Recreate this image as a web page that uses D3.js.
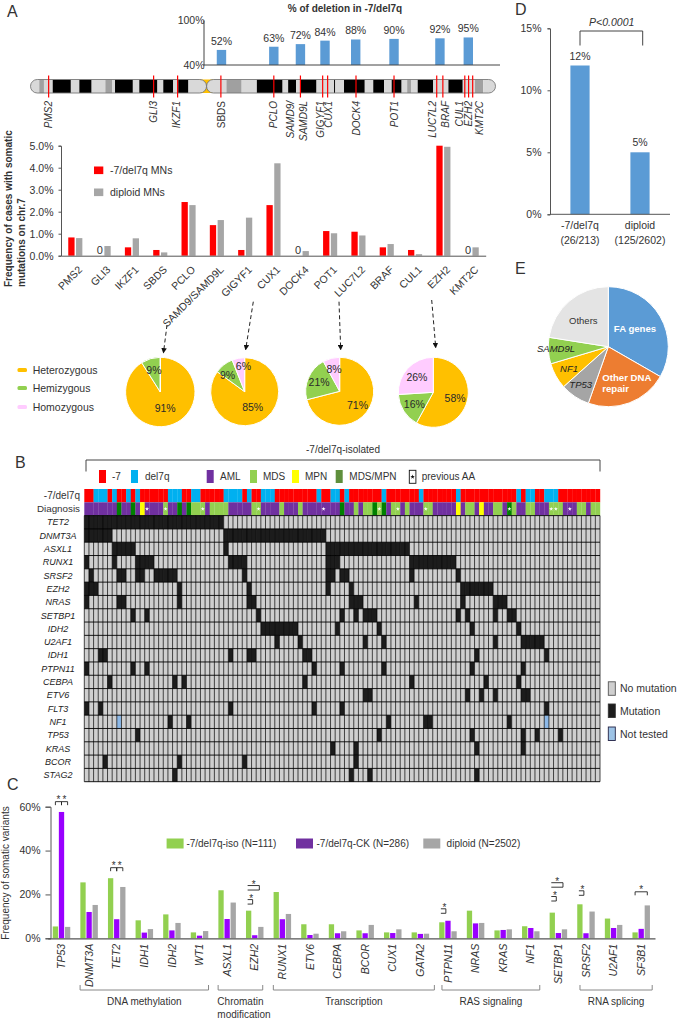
<!DOCTYPE html>
<html>
<head>
<meta charset="utf-8">
<script src="https://cdnjs.cloudflare.com/ajax/libs/d3/7.8.5/d3.min.js"></script>
<style>
  body { margin: 0; background: #fff; }
  svg { display: block; }
  text { font-family: "Liberation Sans", Arial, sans-serif; fill: #333; }
</style>
</head>
<body>
<svg id="chart" width="682" height="1019"></svg>
<script>
// ---- panel A: deletion frequency
const delGenes = ["SBDS", "PCLO", "SAMD9", "GIGYF1", "DOCK4", "POT1", "LUC7L2", "EZH2"];
const delPct = [52, 63, 72, 84, 88, 90, 92, 95];
const delMb = [65.3, 83.2, 92.3, 100.7, 111.2, 124.3, 140, 149.7];

// ---- panel A: chromosome 7 (Mb along the chromosome)
const cytoBands = [
  [0, 3, "l"], [3, 4.6, "g"], [4.6, 7.6, "l"], [7.6, 13.8, "k"], [13.8, 16.7, "l"], [16.7, 20.9, "k"],
  [20.9, 25.6, "l"], [25.6, 28, "g"], [28, 28.9, "l"], [28.9, 35, "k"], [35, 37.2, "l"], [37.2, 43.4, "k"],
  [43.4, 45.4, "l"], [45.4, 48.8, "k"], [48.8, 50.5, "l"], [50.5, 54, "k"], [54, 60.2, "l"], [60.2, 67, "l"],
  [67, 72.2, "g"], [72.2, 77.4, "l"], [77.4, 86.2, "k"], [86.2, 88.1, "l"], [88.1, 90.8, "k"], [90.8, 92.4, "l"],
  [92.4, 97.8, "k"], [97.8, 103.8, "l"], [103.8, 104.2, "k"], [104.2, 107.2, "l"], [107.2, 114.3, "k"],
  [114.3, 117.2, "l"], [117.2, 120.9, "k"], [120.9, 123.5, "l"], [123.5, 126.9, "k"], [126.9, 128.8, "l"],
  [128.8, 130.1, "g"], [130.1, 132.4, "l"], [132.4, 137.7, "k"], [137.7, 142.9, "l"], [142.9, 147.8, "k"],
  [147.8, 152, "l"], [152, 154.8, "g"], [154.8, 159, "l"]
];
const lociNames = ["PMS2", "GLI3", "IKZF1", "SBDS", "PCLO", "SAMD9/SAMD9L", "GIGYF1", "CUX1", "DOCK4", "POT1", "LUC7L2", "BRAF", "CUL1", "EZH2", "KMT2C"];
const lociMb = [6.2, 42.1, 50.3, 65.1, 83.2, 92.3, 99.9, 101.6, 111.3, 124.3, 138.9, 141, 148.5, 149.8, 151.2];

// ---- panel A: somatic mutation frequency on chr.7
const freqDel7 = [0.83, 0, 0.38, 0.26, 2.44, 1.39, 0.26, 2.3, 0, 1.12, 1.09, 0.38, 0.26, 5.0, 0];
const freqDiploid = [0.8, 0.44, 0.79, 0.15, 2.3, 1.62, 1.73, 4.2, 0.21, 1.02, 0.92, 0.53, 0.07, 4.95, 0.38];

// ---- panel A: zygosity pies
const zygosityNames = ["Heterozygous", "Hemizygous", "Homozygous"];
const zygosityColors = ["#ffc000", "#92d050", "#ffccff"];
const pieShares = [[91, 9, 0], [85, 9, 6], [71, 21, 8], [58, 16, 26]];

// ---- panel B: oncoprint
const karyotypeRuns = [
  ["-7", 2], ["del7q", 3], ["-7", 1], ["del7q", 1], ["-7", 2], ["del7q", 1], ["-7", 1], ["del7q", 1], ["-7", 6],
  ["del7q", 3], ["-7", 2], ["del7q", 2], ["-7", 5], ["del7q", 4], ["-7", 1], ["del7q", 1], ["-7", 2], ["del7q", 3],
  ["-7", 9], ["del7q", 1], ["-7", 2], ["del7q", 2], ["-7", 1], ["del7q", 1], ["-7", 7], ["del7q", 1], ["-7", 7],
  ["del7q", 1], ["-7", 7], ["del7q", 1], ["-7", 12], ["del7q", 1], ["-7", 1], ["del7q", 2], ["-7", 2], ["del7q", 3], ["-7", 9]
];
const diagnosisRuns = [
  ["AML", 7], ["MDS/MPN", 1], ["AML", 2], ["MDS/MPN", 1], ["AML", 1], ["MPN", 1], ["AML", 4], ["MDS", 1], ["AML", 2],
  ["MDS/MPN", 1], ["AML", 1], ["MDS/MPN", 1], ["MDS", 3], ["AML", 1], ["MDS", 4], ["AML", 5], ["MDS", 2], ["AML", 4],
  ["MDS", 1], ["AML", 3], ["MDS", 1], ["AML", 8], ["MDS/MPN", 1], ["AML", 2], ["MDS", 1], ["AML", 1], ["MDS", 2],
  ["MDS/MPN", 1], ["MDS", 1], ["MDS/MPN", 1], ["AML", 1], ["MDS", 2], ["AML", 1], ["MDS", 1], ["AML", 3], ["MDS", 2],
  ["AML", 5], ["MPN", 1], ["AML", 1], ["MDS", 2], ["AML", 1], ["MPN", 1], ["AML", 2], ["MDS", 2], ["AML", 1],
  ["MDS/MPN", 1], ["MDS", 1], ["AML", 2], ["MDS", 2], ["AML", 3], ["MDS", 3], ["AML", 3], ["MDS", 2], ["AML", 1], ["MDS", 2]
];
const previousAA = [13, 17, 25, 37, 51, 63, 67, 73, 91, 100, 101, 104];
const oncoGenes = ["TET2", "DNMT3A", "ASXL1", "RUNX1", "SRSF2", "EZH2", "NRAS", "SETBP1", "IDH2", "U2AF1", "IDH1", "PTPN11", "CEBPA", "ETV6", "FLT3", "NF1", "TP53", "KRAS", "BCOR", "STAG2"];
// [first patient, last patient] of each block of mutated cells, one list per gene
const mutationRuns = [
  [[0, 29]],
  [[0, 5], [30, 51]],
  [[6, 10], [30, 30], [52, 69]],
  [[0, 0], [6, 6], [11, 14], [31, 34], [52, 54], [70, 79]],
  [[1, 1], [7, 8], [11, 12], [15, 19], [34, 34], [52, 53], [55, 56], [70, 70], [80, 80]],
  [[0, 2], [20, 20], [35, 35], [52, 52], [57, 57], [81, 87]],
  [[0, 0], [7, 8], [20, 20], [35, 36], [57, 59], [71, 71], [81, 81], [88, 90]],
  [[10, 10], [13, 13], [37, 37], [55, 55], [58, 58], [60, 62], [80, 80], [82, 82], [88, 88], [91, 92]],
  [[38, 45], [54, 54], [63, 63], [83, 83], [93, 93]],
  [[41, 41], [46, 46], [60, 60], [64, 64], [88, 88], [94, 98]],
  [[3, 4], [31, 31], [35, 36], [47, 48], [84, 84], [99, 99]],
  [[0, 0], [10, 10], [13, 13], [49, 49], [55, 55], [64, 64], [83, 83], [94, 94]],
  [[5, 5], [19, 19], [21, 21], [47, 47], [70, 70], [86, 86], [93, 93]],
  [[60, 61], [82, 82], [85, 85], [88, 88], [94, 95]],
  [[0, 0], [3, 3], [31, 31], [49, 49], [55, 55], [99, 99]],
  [[18, 18], [22, 22], [65, 65], [73, 74], [91, 91]],
  [[11, 11], [63, 63], [83, 83], [94, 94], [97, 97], [102, 102]],
  [[53, 53], [58, 58], [84, 84], [94, 94]],
  [[4, 4], [20, 20], [34, 34], [58, 58]],
  [[19, 19], [57, 57], [61, 61], [84, 84]]
];
const notTestedGene = "NF1";
const notTestedPatients = [7, 99];

// ---- panel C
const variantGenes = ["TP53", "DNMT3A", "TET2", "IDH1", "IDH2", "WT1", "ASXL1", "EZH2", "RUNX1", "ETV6", "CEBPA", "BCOR", "CUX1", "GATA2", "PTPN11", "NRAS", "KRAS", "NF1", "SETBP1", "SRSF2", "U2AF1", "SF3B1"];
const variantIso = [5.4, 25.5, 27.4, 8.2, 10.9, 2.7, 21.9, 12.6, 21.1, 6.4, 6.4, 3.6, 2.7, 2.7, 7.3, 12.6, 3.6, 5.5, 11.7, 15.5, 9, 2.7];
const variantCK = [57.6, 12, 8.7, 2.6, 3.6, 1.2, 8.8, 1.4, 8.7, 1.5, 2.3, 2.3, 2.4, 2, 8, 6.8, 3.8, 4.7, 2.4, 2.3, 4.7, 4.3];
const variantDiploid = [5.2, 15.2, 23.4, 4.2, 7, 3.3, 16.3, 5.2, 11.1, 2.1, 3.2, 6.1, 4.1, 2.1, 3.2, 7, 4.1, 3.2, 4.1, 12.2, 6.1, 15];
const variantSeries = ["-7/del7q-iso (N=111)", "-7/del7q-CK (N=286)", "diploid (N=2502)"];
const geneGroups = [
  ["DNA methylation", "DNMT3A", "WT1"], ["Chromatin", "ASXL1", "EZH2"], ["Transcription", "RUNX1", "GATA2"],
  ["RAS signaling", "PTPN11", "NF1"], ["RNA splicing", "SRSF2", "SF3B1"]
];

// ---- panel D
const panelDNames = ["-7/del7q", "diploid"];
const panelDCounts = ["(26/213)", "(125/2602)"];
const panelDPct = [12, 5];

// ---- panel E
const pathwayNames = ["FA genes", "Other DNA repair", "TP53", "NF1", "SAMD9L", "Others"];
const pathwayShares = [33.3, 22.1, 8, 7, 7.1, 22.5];
const pathwayColors = ["#5b9bd5", "#ed7d31", "#a5a5a5", "#ffc000", "#92d050", "#e4e4e4"];

const svg = d3.select("#chart");
const FONT = 10.5;

function label(parent, x, y, str, opts) {
  opts = opts || {};
  return parent.append("text")
    .attr("x", x).attr("y", y)
    .attr("dy", opts.dy || "0.35em")
    .attr("text-anchor", opts.anchor || "start")
    .attr("font-size", opts.size || FONT)
    .attr("font-style", opts.italic ? "italic" : null)
    .attr("font-weight", opts.bold ? "bold" : null)
    .style("fill", opts.fill || null)
    .text(str);
}

function styleAxis(g, color) {
  g.selectAll("path, line").attr("stroke", color || "#555");
  g.selectAll("text").attr("font-size", FONT).style("font-family", '"Liberation Sans", Arial, sans-serif');
}

[["A", 7, 11], ["B", 15, 462], ["C", 7, 784], ["D", 515, 9], ["E", 515, 268]].forEach(d => {
  label(svg, d[1], d[2], d[0], { size: 16 });
});

drawDeletionBars();
drawChromosome();
drawFrequencyBars();
drawPies();
drawOncoprint();
drawVariants();
drawPanelD();
drawPanelE();

function drawDeletionBars() {
  const g = svg.append("g");
  const xMb = d3.scaleLinear().domain([0, 159]).range([30.5, 495.5]);
  const axisY = d3.scaleLinear().domain([40, 100]).range([65, 20]);
  // bars were drawn from zero in the original, the axis only labels 40-100
  const barY = d3.scaleLinear().domain([0, 100]).range([65, 36]);

  label(g, 345, 8.5, "% of deletion in -7/del7q", { anchor: "middle", bold: true, size: 10 });

  g.selectAll("rect").data(delPct).enter().append("rect")
    .attr("x", (d, i) => xMb(delMb[i]) - 4.7)
    .attr("width", 9.4)
    .attr("y", d => barY(d))
    .attr("height", d => barY(0) - barY(d))
    .attr("fill", "#5b9bd5");

  g.selectAll(".pct").data(delPct).enter().append("text")
    .attr("class", "pct")
    .attr("x", (d, i) => xMb(delMb[i]))
    .attr("y", d => barY(d) - 5)
    .attr("text-anchor", "middle")
    .attr("font-size", FONT)
    .text(d => d + "%");

  const ax = g.append("g").attr("transform", "translate(203.5,0)")
    .call(d3.axisLeft(axisY).tickValues([40, 100]).tickSize(0).tickPadding(-1).tickFormat(d => d + "%"));
  styleAxis(ax, "#444");
  g.append("line").attr("x1", 203.5).attr("x2", 500).attr("y1", 65).attr("y2", 65).attr("stroke", "#444");
}

function drawChromosome() {
  const g = svg.append("g");
  const x = d3.scaleLinear().domain([0, 159]).range([30.5, 495.5]);
  const top = 79.5, h = 13.5;
  const arms = [[0, 60.2], [60.2, 159]];
  const bandColor = { l: "#d9d9d9", g: "#a0a0a0", k: "#000" };

  const clip = svg.append("defs").append("clipPath").attr("id", "chrClip");
  arms.forEach(a => {
    clip.append("rect").attr("x", x(a[0])).attr("y", top)
      .attr("width", x(a[1]) - x(a[0])).attr("height", h).attr("rx", h / 2);
  });

  g.append("rect").attr("x", x(57.7)).attr("width", x(62.7) - x(57.7))
    .attr("y", top).attr("height", h).attr("fill", "#ffc000");

  g.append("g").attr("clip-path", "url(#chrClip)")
    .selectAll("rect").data(cytoBands).enter().append("rect")
    .attr("x", d => x(d[0]))
    .attr("width", d => x(d[1]) - x(d[0]))
    .attr("y", top).attr("height", h)
    .attr("fill", d => bandColor[d[2]]);

  arms.forEach(a => {
    g.append("rect").attr("x", x(a[0])).attr("y", top)
      .attr("width", x(a[1]) - x(a[0])).attr("height", h).attr("rx", h / 2)
      .attr("fill", "none").attr("stroke", "#777").attr("stroke-width", 0.9);
  });

  g.selectAll(".locus").data(lociMb).enter().append("line")
    .attr("class", "locus")
    .attr("x1", d => x(d)).attr("x2", d => x(d))
    .attr("y1", 75.5).attr("y2", 97.5)
    .attr("stroke", "#f00").attr("stroke-width", 1.2);

  // labels sit beside the locus where they would collide
  const names = ["PMS2", "GLI3", "IKZF1", "SBDS", "PCLO", "SAMD9/", "SAMD9L", "GIGYF1", "CUX1", "DOCK4", "POT1", "LUC7L2", "BRAF", "CUL1", "EZH2", "KMT2C"];
  const mbOf = [6.1, 42, 50, 65.3, 83.1, 88.9, 93.3, 99.2, 101.9, 111.5, 124.6, 137.4, 141.9, 146.8, 149.8, 153.4];
  names.forEach((n, i) => {
    g.append("text")
      .attr("transform", `translate(${x(mbOf[i])},101) rotate(-90)`)
      .attr("dy", "0.35em")
      .attr("text-anchor", "end")
      .attr("font-size", 10).attr("font-style", n === "SBDS" ? null : "italic")
      .text(n);
  });
}

function drawFrequencyBars() {
  const g = svg.append("g");
  const x = d3.scaleBand().domain(lociNames).range([61, 485.7]);
  const y = d3.scaleLinear().domain([0, 5]).range([255.7, 145.7]);
  const series = [freqDel7, freqDiploid];
  const colors = ["#ff0000", "#a6a6a6"];

  series.forEach((vals, s) => {
    g.append("g").selectAll("rect").data(vals).enter().append("rect")
      .attr("x", (d, i) => x(lociNames[i]) + x.bandwidth() / 2 - 6.9 + s * 7.8)
      .attr("width", 6.3)
      .attr("y", d => y(d))
      .attr("height", d => y(0) - y(d))
      .attr("fill", colors[s]);
  });

  freqDel7.forEach((d, i) => {
    if (d === 0) label(g, x(lociNames[i]) + x.bandwidth() / 2 - 3.6, y(0) - 5.5, "0", { anchor: "middle", size: 11 });
  });

  const ay = g.append("g").attr("transform", "translate(61,0)")
    .call(d3.axisLeft(y).ticks(5).tickSize(2.5).tickPadding(5).tickFormat(d => d.toFixed(1) + "%"));
  styleAxis(ay);

  const ax = g.append("g").attr("transform", "translate(0,255.7)")
    .call(d3.axisBottom(x).tickSize(0).tickFormat(d => d));
  styleAxis(ax);
  ax.selectAll("text")
    .attr("x", 0).attr("y", 0).attr("dy", "0.35em")
    .attr("text-anchor", "end")
    .attr("transform", "translate(5,12) rotate(-45)");

  [["-7/del7q MNs", 0, 170.3], ["diploid MNs", 1, 192.3]].forEach(d => {
    g.append("rect").attr("x", 94).attr("y", d[2] - 3.8).attr("width", 9.3).attr("height", 7.6).attr("fill", colors[d[1]]);
    label(g, 110, d[2], d[0]);
  });

  g.append("text").attr("transform", "translate(8,287) rotate(-90)").attr("dy", "0.35em")
    .attr("font-size", 10).attr("font-weight", "bold").text("Frequency of cases with somatic");
  g.append("text").attr("transform", "translate(21,287) rotate(-90)").attr("dy", "0.35em")
    .attr("font-size", 10).attr("font-weight", "bold").text("mutations  on chr.7");
}

function drawPies() {
  const g = svg.append("g");
  const centers = [[160.3, 392, 34.7], [244.7, 391.7, 34], [339.7, 391.3, 34], [433.3, 392.3, 35]];
  const pie = d3.pie().sort(null);
  // the two narrow slices of the second pie need their labels pulled apart
  const labelNudge = { "1-1": [-3, 1.5], "1-2": [3, -3] };

  pieShares.forEach((shares, k) => {
    const c = centers[k];
    const p = g.append("g").attr("transform", `translate(${c[0]},${c[1]})`);
    const arcs = pie(shares);
    const arc = d3.arc().innerRadius(0).outerRadius(c[2]);
    p.selectAll("path").data(arcs).enter().append("path")
      .attr("d", arc)
      .attr("fill", (d, i) => zygosityColors[i])
      .attr("stroke", "#fff").attr("stroke-width", 1);
    arcs.forEach((d, i) => {
      if (d.value === 0) return;
      const r = d.value > 80 ? 17.5 : (d.value < 10 ? 23 : 22.5);
      const lab = d3.arc().innerRadius(r).outerRadius(r).centroid(d);
      const nudge = labelNudge[k + "-" + i] || [0, 0];
      label(p, lab[0] + nudge[0], lab[1] + nudge[1], d.value + "%", { anchor: "middle", size: 10.5, fill: "#2a2a2a" });
    });
  });

  zygosityNames.forEach((n, i) => {
    const yy = [370, 388, 407][i];
    g.append("rect").attr("x", 17.5).attr("y", yy - 2).attr("width", 9.5).attr("height", 4).attr("rx", 1.5).attr("fill", zygosityColors[i]);
    label(g, 32.7, yy, n, { size: 10.5 });
  });

  const defs = svg.append("defs");
  defs.append("marker").attr("id", "tri").attr("viewBox", "0 0 10 10")
    .attr("refX", 8).attr("refY", 5).attr("markerWidth", 5.5).attr("markerHeight", 5.5).attr("orient", "auto")
    .append("path").attr("d", "M0,0L10,5L0,10z").attr("fill", "#111");
  [[167, 325, 163.5, 352.5], [253.3, 301.7, 245.7, 349.3], [339, 301.7, 340.7, 349.3], [431.7, 300, 435.7, 347.3]].forEach(d => {
    g.append("line").attr("x1", d[0]).attr("y1", d[1]).attr("x2", d[2]).attr("y2", d[3])
      .attr("stroke", "#222").attr("stroke-width", 1).attr("stroke-dasharray", "4,2.8")
      .attr("marker-end", "url(#tri)");
  });
}

function expandRuns(runs) {
  const out = [];
  runs.forEach(r => { for (let i = 0; i < r[1]; i++) out.push(r[0]); });
  return out;
}

function drawOncoprint() {
  const g = svg.append("g");
  const karyotype = expandRuns(karyotypeRuns);
  const diagnosis = expandRuns(diagnosisRuns);
  const patients = karyotype.map((d, i) => i);
  const x = d3.scaleBand().domain(patients).range([84.3, 600]);
  const y = d3.scaleBand().domain(["-7/del7q", "Diagnosis"].concat(oncoGenes)).range([489, 781.7]);

  const karyoColor = d3.scaleOrdinal().domain(["-7", "del7q"]).range(["#ff0000", "#00b0f0"]);
  const dxColor = d3.scaleOrdinal().domain(["AML", "MDS", "MPN", "MDS/MPN"]).range(["#7030a0", "#92d050", "#ffff00", "#008000"]);

  // bracket + title
  label(g, 343, 449, "-7/del7q-isolated", { anchor: "middle", size: 10 });
  g.append("path").attr("d", "M86,471.5V460H600V471.5").attr("fill", "none").attr("stroke", "#444").attr("stroke-width", 1);

  // legend
  [["-7", "#ff0000", 99, 112], ["del7q", "#00b0f0", 131, 145], ["AML", "#7030a0", 206.7, 220], ["MDS", "#92d050", 250, 263],
   ["MPN", "#ffff00", 292, 305], ["MDS/MPN", "#5f8f3c", 335.7, 349.3]].forEach(d => {
    g.append("rect").attr("x", d[2]).attr("y", 470).attr("width", 7).attr("height", 13).attr("fill", d[1]);
    label(g, d[3], 476.5, d[0], { size: 10 });
  });
  g.append("rect").attr("x", 409.3).attr("y", 470.3).attr("width", 6.6).attr("height", 13).attr("fill", "#fff").attr("stroke", "#111").attr("stroke-width", 0.9);
  g.append("path").attr("d", d3.symbol(d3.symbolStar, 6)()).attr("transform", "translate(412.6,476.8)").attr("fill", "#111");
  label(g, 421.7, 476.5, "previous AA", { size: 10 });

  // annotation tracks
  g.append("g").selectAll("rect").data(karyotype).enter().append("rect")
    .attr("x", (d, i) => x(i)).attr("width", x.bandwidth() + 0.2)
    .attr("y", y("-7/del7q")).attr("height", y.bandwidth())
    .attr("fill", d => karyoColor(d));
  g.append("g").selectAll("rect").data(diagnosis).enter().append("rect")
    .attr("x", (d, i) => x(i)).attr("width", x.bandwidth() + 0.2)
    .attr("y", y("Diagnosis")).attr("height", y.bandwidth())
    .attr("fill", d => dxColor(d));
  g.append("g").selectAll("path").data(previousAA).enter().append("path")
    .attr("d", d3.symbol(d3.symbolStar, 5)())
    .attr("transform", d => `translate(${x(d) + x.bandwidth() / 2},${y("Diagnosis") + y.bandwidth() / 2})`)
    .attr("fill", "#fff");

  // cells
  const cells = [];
  oncoGenes.forEach((gene, gi) => {
    patients.forEach(p => {
      let state = 0;
      if (mutationRuns[gi].some(r => p >= r[0] && p <= r[1])) state = 1;
      if (gene === notTestedGene && notTestedPatients.indexOf(p) >= 0) state = 2;
      cells.push({ gene, p, state });
    });
  });
  const cellColor = ["#cfcfcf", "#1c1c1c", "#8db9e8"];
  g.append("g").selectAll("rect").data(cells).enter().append("rect")
    .attr("x", d => x(d.p)).attr("width", x.bandwidth() + 0.1)
    .attr("y", d => y(d.gene)).attr("height", y.bandwidth() + 0.1)
    .attr("fill", d => cellColor[d.state]);

  const top = y(oncoGenes[0]), bottom = 781.7;
  g.append("g").selectAll("line").data(patients.concat([111])).enter().append("line")
    .attr("x1", d => 84.3 + d * x.step()).attr("x2", d => 84.3 + d * x.step())
    .attr("y1", top).attr("y2", bottom)
    .attr("stroke", "#000").attr("stroke-width", 0.7);
  g.append("g").selectAll("line").data(oncoGenes.concat(["end"])).enter().append("line")
    .attr("x1", 84.3).attr("x2", 600)
    .attr("y1", d => d === "end" ? bottom : y(d))
    .attr("y2", d => d === "end" ? bottom : y(d))
    .attr("stroke", "#000").attr("stroke-width", 0.9);

  // row labels
  label(g, 80, y("-7/del7q") + y.bandwidth() / 2, "-7/del7q", { anchor: "end", size: 10 });
  label(g, 80, y("Diagnosis") + y.bandwidth() / 2, "Diagnosis", { anchor: "end", size: 9.8 });
  oncoGenes.forEach(gene => {
    label(g, 58, y(gene) + y.bandwidth() / 2, gene, { anchor: "middle", size: 9, italic: true, fill: "#222" });
  });

  // right legend
  [["No mutation", cellColor[0], 681.8, "#555"], ["Mutation", cellColor[1], 704, "#333"], ["Not tested", "#9dc3e6", 727, "#224"]].forEach(d => {
    g.append("rect").attr("x", 608.3).attr("y", d[2]).attr("width", 7).attr("height", 13.5).attr("fill", d[1]).attr("stroke", d[3]).attr("stroke-width", 0.9);
    label(g, 620, d[2] + 7, d[0], { size: 10.5 });
  });
}

function drawVariants() {
  const g = svg.append("g");
  const x = d3.scaleBand().domain(variantGenes).range([47.7, 655]);
  const y = d3.scaleLinear().domain([0, 60]).range([938.3, 806.7]);
  const series = [variantIso, variantCK, variantDiploid];
  const colors = ["#92d050", "#9900ff", "#a6a6a6"];
  const barW = 5.3, barStep = 6.1;
  const cx = (gene, s) => x(gene) + x.bandwidth() / 2 + (s - 1) * barStep;

  series.forEach((vals, s) => {
    g.append("g").selectAll("rect").data(vals).enter().append("rect")
      .attr("x", (d, i) => cx(variantGenes[i], s) - barW / 2)
      .attr("width", barW)
      .attr("y", d => y(d))
      .attr("height", d => y(0) - y(d))
      .attr("fill", colors[s]);
  });

  const ay = g.append("g").attr("transform", "translate(50.5,0)")
    .call(d3.axisLeft(y).tickValues([0, 20, 40, 60]).tickSize(5).tickPadding(5).tickFormat(d => d + "%"));
  styleAxis(ay);
  ay.select(".domain").attr("stroke", "#555");

  const ax = g.append("g").attr("transform", "translate(0,938.3)")
    .call(d3.axisBottom(x).tickSize(0));
  styleAxis(ax);
  ax.select(".domain").attr("stroke-width", 1.2);
  ax.selectAll("text")
    .attr("x", 0).attr("y", 0).attr("dy", "0.35em")
    .attr("text-anchor", "end")
    .attr("font-size", 10.5).attr("font-style", "italic")
    .attr("transform", "translate(0,5.5) rotate(-90)");

  // legend
  [[166.6, 186.4, "#92d050"], [296, 316.5, "#7030a0"], [423.3, 446.6, "#a6a6a6"]].forEach((d, i) => {
    g.append("rect").attr("x", d[0]).attr("y", 838.5).attr("width", 17).attr("height", 10).attr("fill", d[2]);
    label(g, d[1], 843.7, variantSeries[i], { size: 10 });
  });

  g.append("text").attr("transform", "translate(5.5,873) rotate(-90)").attr("dy", "0.35em")
    .attr("text-anchor", "middle").attr("font-size", 10).text("Frequency of somatic variants");

  // significance marks: gene, from series, to series, height in %, shape
  const sigMarks = [
    ["TP53", 0, 1, 62.3, "top"], ["TP53", 1, 2, 62.3, "top"],
    ["TET2", 0, 1, 32.2, "top"], ["TET2", 1, 2, 32.2, "top"],
    ["SF3B1", 0, 2, 21.2, "top"],
    ["EZH2", 0, 1, 15.6, "side"], ["EZH2", 0, 2, 22, "side"],
    ["PTPN11", 0, 1, 11.4, "side"],
    ["SETBP1", 0, 1, 17, "side"], ["SETBP1", 0, 2, 23.3, "side"],
    ["SRSF2", 0, 1, 19.6, "side"]
  ];
  sigMarks.forEach(m => {
    const x0 = cx(m[0], m[1]), x1 = cx(m[0], m[2]), yy = y(m[3]);
    let d, starX, starY;
    if (m[4] === "top") {
      d = `M${x0},${yy + 3.5}V${yy}H${x1}V${yy + 3.5}`;
      starX = (x0 + x1) / 2; starY = yy - 4.5;
    } else {
      const wide = m[2] - m[1] > 1;
      const right = wide ? x0 + 10.7 : x0 + 4;
      d = `M${x0 - 1},${yy - 4.5}H${right}V${yy}H${x0 - 1}`;
      starX = wide ? x0 + 5 : x0 + 2.6;
      starY = yy - 8;
    }
    g.append("path").attr("d", d).attr("fill", "none").attr("stroke", "#222").attr("stroke-width", 0.9);
    g.append("text").attr("x", starX).attr("y", starY).attr("dy", "0.55em").attr("text-anchor", "middle").attr("font-size", 10).text("*");
  });

  // gene groups, bracket ends reach slightly past the outer genes
  const groupPad = [[9, 9], [9, 8], [9, 14], [6, 9], [6, 11]];
  geneGroups.forEach((d, i) => {
    const a = x(d[1]) + x.bandwidth() / 2 - groupPad[i][0], b = x(d[2]) + x.bandwidth() / 2 + groupPad[i][1];
    g.append("path").attr("d", `M${a},985V990H${b}V985`).attr("fill", "none").attr("stroke", "#888").attr("stroke-width", 1);
    label(g, (a + b) / 2, 1001.7, d[0], { anchor: "middle", size: 10 });
  });
  label(g, 244, 1014, "modification", { anchor: "middle", size: 10 });
}

function drawPanelD() {
  const g = svg.append("g");
  const x = d3.scaleBand().domain(panelDNames).range([550, 670]).paddingInner(0.68).paddingOuter(0.34);
  const y = d3.scaleLinear().domain([0, 15]).range([214.3, 28.3]);

  g.selectAll("rect").data(panelDPct).enter().append("rect")
    .attr("x", (d, i) => x(panelDNames[i]))
    .attr("width", x.bandwidth())
    .attr("y", d => y(d))
    .attr("height", d => y(0) - y(d))
    .attr("fill", "#5b9bd5");

  panelDPct.forEach((d, i) => {
    label(g, x(panelDNames[i]) + x.bandwidth() / 2, y(d) - 9.5, d + "%", { anchor: "middle" });
    label(g, x(panelDNames[i]) + x.bandwidth() / 2, 225, panelDNames[i], { anchor: "middle" });
    label(g, x(panelDNames[i]) + x.bandwidth() / 2, 240.7, panelDCounts[i], { anchor: "middle" });
  });

  const ay = g.append("g").attr("transform", "translate(550,0)")
    .call(d3.axisLeft(y).tickValues([0, 5, 10, 15]).tickSize(2.5).tickPadding(6).tickFormat(d => d + "%"));
  styleAxis(ay);
  g.append("line").attr("x1", 550).attr("x2", 670).attr("y1", 214.3).attr("y2", 214.3).attr("stroke", "#555");

  g.append("path").attr("d", "M580,45.5V31H642.7V45.5").attr("fill", "none").attr("stroke", "#444").attr("stroke-width", 1);
  label(g, 611.7, 22, "P<0.0001", { anchor: "middle", italic: true });
}

function drawPanelE() {
  const g = svg.append("g").attr("transform", "translate(608.3,346.7)");
  const arc = d3.arc().innerRadius(0).outerRadius(60);
  g.selectAll("path").data(d3.pie().sort(null)(pathwayShares)).enter().append("path")
    .attr("d", arc)
    .attr("fill", (d, i) => pathwayColors[i])
    .attr("stroke", "#fff").attr("stroke-width", 1);

  label(g, 26.7, -18.4, pathwayNames[0], { anchor: "middle", bold: true, fill: "#fff", size: 9.6 });
  label(g, -6, 31, "Other DNA", { bold: true, fill: "#fff", size: 9.6 });
  label(g, -6, 42.3, "repair", { bold: true, fill: "#fff", size: 9.6 });
  label(g, -27.6, 37.6, pathwayNames[2], { anchor: "middle", italic: true, size: 9.5, fill: "#222" });
  label(g, -39.3, 22.3, pathwayNames[3], { anchor: "middle", italic: true, size: 9.5, fill: "#222" });
  label(g, -52.3, 2.3, pathwayNames[4], { anchor: "middle", italic: true, size: 9.5, fill: "#222" });
  label(g, -25, -25.7, pathwayNames[5], { anchor: "middle", size: 9.5 });
}
</script>
</body>
</html>
